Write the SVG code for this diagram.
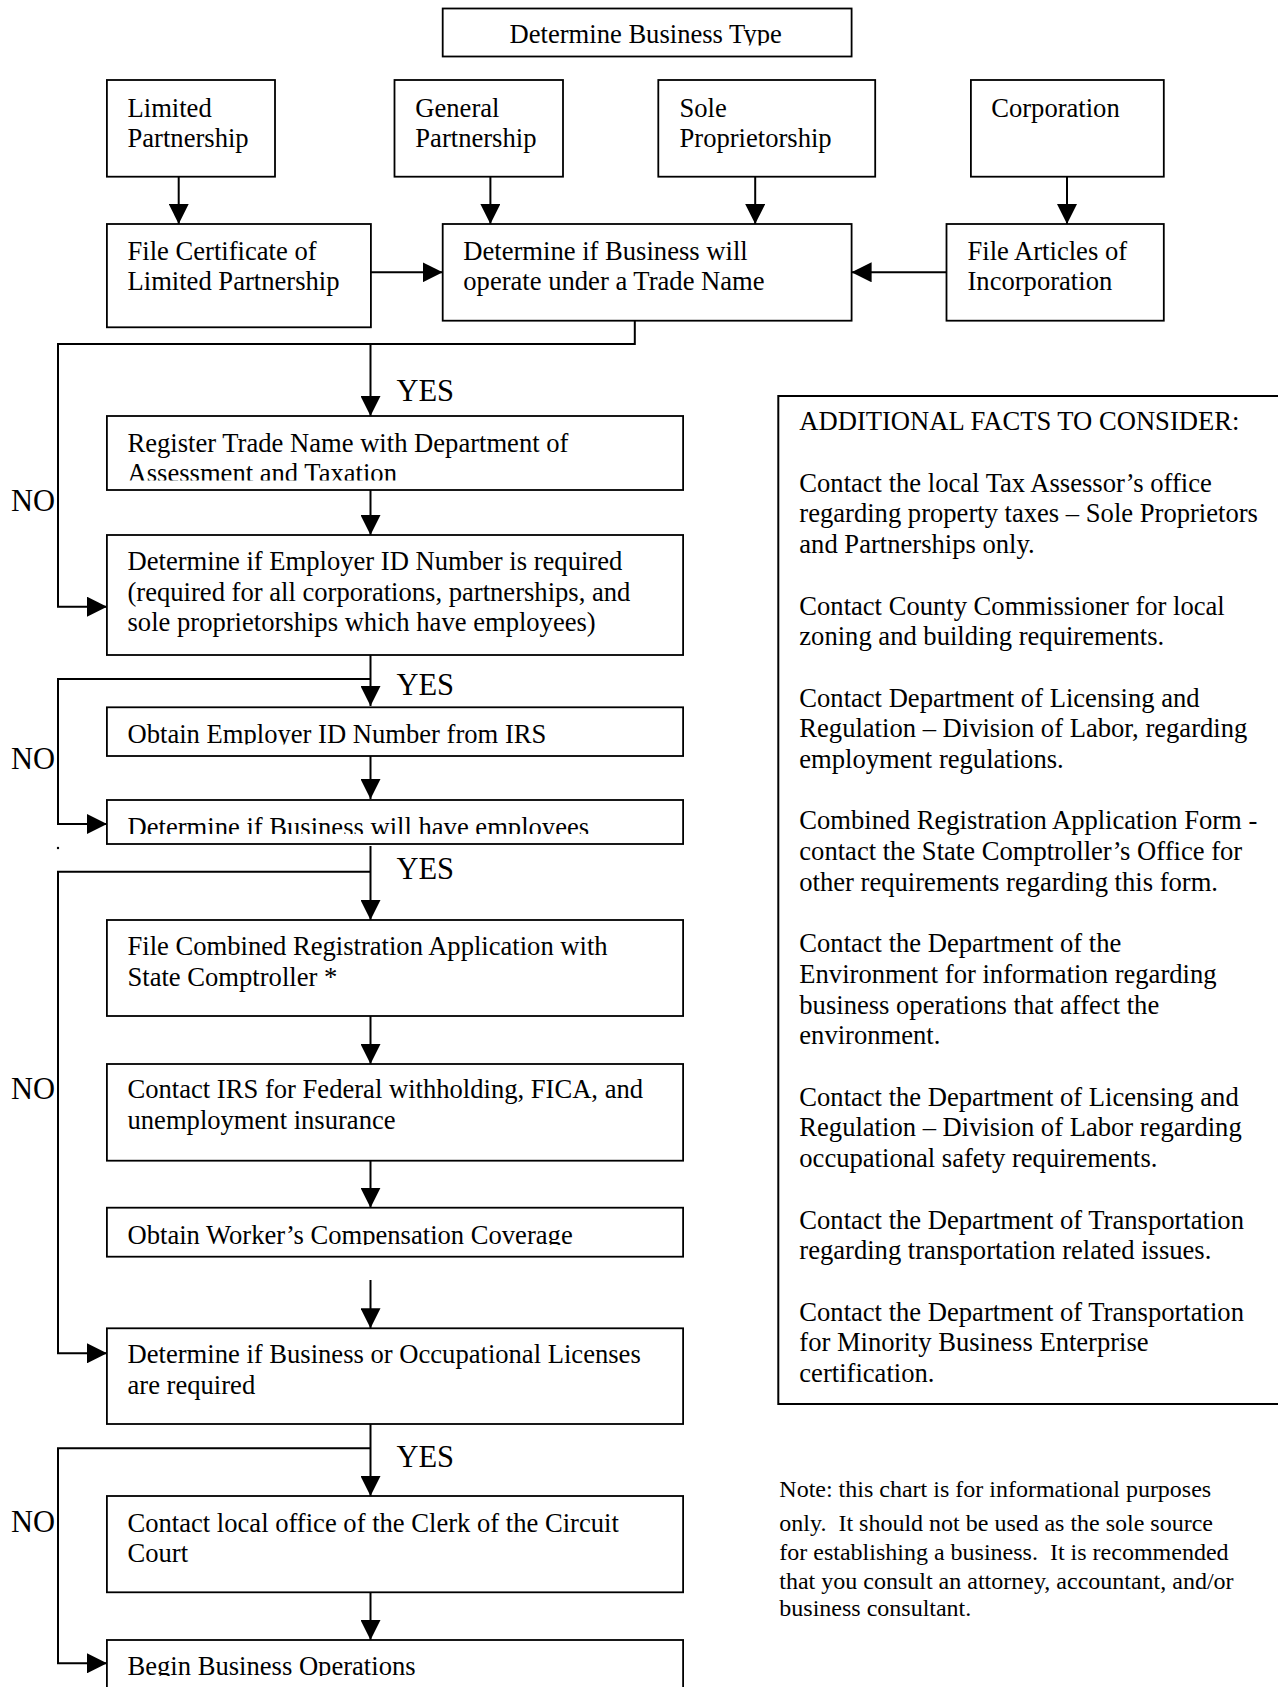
<svg xmlns="http://www.w3.org/2000/svg" width="1278" height="1687" viewBox="0 0 1278 1687">
<style>
  .box { fill: #fff; stroke: #000; stroke-width: 1.8; }
  .fbox { fill: #fff; stroke: #000; stroke-width: 2; }
  .t { font-family: "Liberation Serif", "Times New Roman", serif; font-size: 26.6px; fill: #000; }
  .yn { font-family: "Liberation Serif", "Times New Roman", serif; font-size: 30.5px; fill: #000; }
  .note { font-family: "Liberation Serif", "Times New Roman", serif; font-size: 24px; fill: #000; white-space: pre; }
  .c { fill: none; stroke: #000; stroke-width: 2; }
</style>
<defs>
  <marker id="ah" markerUnits="userSpaceOnUse" markerWidth="20" markerHeight="20" refX="20" refY="10" orient="auto" viewBox="0 0 20 20">
    <path d="M0,0 L20,10 L0,20 Z" fill="#000"/>
  </marker>
  <clipPath id="clipTop"><rect x="442" y="8" width="410" height="37.5"/></clipPath>
  <clipPath id="clipReg"><rect x="107" y="416" width="576" height="64.5"/></clipPath>
  <clipPath id="clipEIN"><rect x="107" y="707" width="576" height="37.5"/></clipPath>
  <clipPath id="clipEmp"><rect x="107" y="800" width="576" height="34"/></clipPath>
  <clipPath id="clipWork"><rect x="107" y="1208" width="576" height="37"/></clipPath>
  <clipPath id="clipBegin"><rect x="107" y="1640" width="576" height="36"/></clipPath>
</defs>
<rect x="0" y="0" width="1278" height="1687" fill="#fff"/>

<g id="connectors">
  <path class="c" d="M178.7,176.7 V224" marker-end="url(#ah)"/>
  <path class="c" d="M490.4,176.7 V224" marker-end="url(#ah)"/>
  <path class="c" d="M755.2,176.7 V224" marker-end="url(#ah)"/>
  <path class="c" d="M1067,176.7 V224" marker-end="url(#ah)"/>
  <path class="c" d="M370.9,272.3 H442.7" marker-end="url(#ah)"/>
  <path class="c" d="M946.5,272.3 H851.6" marker-end="url(#ah)"/>
  <path class="c" d="M634.8,320.7 V344 H58 V606.7 H107" marker-end="url(#ah)"/>
  <path class="c" d="M370.5,344 V416" marker-end="url(#ah)"/>
  <path class="c" d="M370.5,490 V535" marker-end="url(#ah)"/>
  <path class="c" d="M370.5,655 V706" marker-end="url(#ah)"/>
  <path class="c" d="M370.5,679 H58 V824 H107" marker-end="url(#ah)"/>
  <path class="c" d="M370.5,756 V799" marker-end="url(#ah)"/>
  <path class="c" d="M370.5,846 V920" marker-end="url(#ah)"/>
  <path class="c" d="M370.5,871.7 H58 V1353.3 H107" marker-end="url(#ah)"/>
  <path class="c" d="M370.5,1016 V1064" marker-end="url(#ah)"/>
  <path class="c" d="M370.5,1160.7 V1207.7" marker-end="url(#ah)"/>
  <path class="c" d="M370.5,1280 V1328.3" marker-end="url(#ah)"/>
  <path class="c" d="M370.5,1424 V1496" marker-end="url(#ah)"/>
  <path class="c" d="M370.5,1448.3 H58 V1663.3 H107" marker-end="url(#ah)"/>
  <path class="c" d="M370.5,1592.3 V1640" marker-end="url(#ah)"/>
  <circle cx="58" cy="848" r="1.2" fill="#000"/>
  <text class="yn" x="396.4" y="400.5">YES</text>
  <text class="yn" x="396.4" y="695">YES</text>
  <text class="yn" x="396.4" y="878.5">YES</text>
  <text class="yn" x="396.4" y="1467">YES</text>
  <text class="yn" x="11" y="511">NO</text>
  <text class="yn" x="11" y="769">NO</text>
  <text class="yn" x="11" y="1099">NO</text>
  <text class="yn" x="11" y="1532">NO</text>
</g>

<g id="n-type">
  <rect class="box" x="442.7" y="8.5" width="408.9" height="48"/>
  <text class="t" x="509.5" y="43.3" clip-path="url(#clipTop)">Determine Business Type</text>
</g>
<g id="n-lp">
  <rect class="box" x="106.9" y="80" width="168.1" height="96.7"/>
  <text class="t" x="127.5" y="116.5">Limited</text>
  <text class="t" x="127.5" y="147.2">Partnership</text>
</g>
<g id="n-gp">
  <rect class="box" x="394.5" y="80" width="168.5" height="96.7"/>
  <text class="t" x="415.3" y="116.5">General</text>
  <text class="t" x="415.3" y="147.2">Partnership</text>
</g>
<g id="n-sp">
  <rect class="box" x="658.3" y="80" width="216.9" height="96.7"/>
  <text class="t" x="679.5" y="116.5">Sole</text>
  <text class="t" x="679.5" y="147.2">Proprietorship</text>
</g>
<g id="n-corp">
  <rect class="box" x="970.9" y="80" width="192.9" height="96.7"/>
  <text class="t" x="991.2" y="116.5">Corporation</text>
</g>
<g id="n-fclp">
  <rect class="box" x="106.9" y="224" width="264" height="103.3"/>
  <text class="t" x="127.5" y="259.5">File Certificate of</text>
  <text class="t" x="127.5" y="290.2">Limited Partnership</text>
</g>
<g id="n-trade">
  <rect class="box" x="442.7" y="224" width="408.9" height="96.7"/>
  <text class="t" x="463.3" y="259.5">Determine if Business will</text>
  <text class="t" x="463.3" y="290.2">operate under a Trade Name</text>
</g>
<g id="n-fai">
  <rect class="box" x="946.5" y="224" width="217.3" height="96.7"/>
  <text class="t" x="967.5" y="259.5">File Articles of</text>
  <text class="t" x="967.5" y="290.2">Incorporation</text>
</g>
<g id="n-register">
  <rect class="box" x="106.9" y="416" width="576.2" height="74"/>
  <g clip-path="url(#clipReg)">
    <text class="t" x="127.5" y="451.7">Register Trade Name with Department of</text>
    <text class="t" x="127.5" y="482.4">Assessment and Taxation</text>
  </g>
</g>
<g id="n-ein">
  <rect class="box" x="106.9" y="535" width="576.2" height="120"/>
  <text class="t" x="127.5" y="570">Determine if Employer ID Number is required</text>
  <text class="t" x="127.5" y="600.7">(required for all corporations, partnerships, and</text>
  <text class="t" x="127.5" y="631.4">sole proprietorships which have employees)</text>
</g>
<g id="n-obtain">
  <rect class="box" x="106.9" y="707.3" width="576.2" height="48.7"/>
  <text class="t" x="127.5" y="743" clip-path="url(#clipEIN)">Obtain Employer ID Number from IRS</text>
</g>
<g id="n-employees">
  <rect class="box" x="106.9" y="800" width="576.2" height="44"/>
  <text class="t" x="127.5" y="835.5" clip-path="url(#clipEmp)">Determine if Business will have employees</text>
</g>
<g id="n-combined">
  <rect class="box" x="106.9" y="920" width="576.2" height="96"/>
  <text class="t" x="127.5" y="955">File Combined Registration Application with</text>
  <text class="t" x="127.5" y="985.7">State Comptroller *</text>
</g>
<g id="n-irs">
  <rect class="box" x="106.9" y="1064" width="576.2" height="96.7"/>
  <text class="t" x="127.5" y="1098.3">Contact IRS for Federal withholding, FICA, and</text>
  <text class="t" x="127.5" y="1129">unemployment insurance</text>
</g>
<g id="n-workers">
  <rect class="box" x="106.9" y="1207.7" width="576.2" height="49"/>
  <text class="t" x="127.5" y="1243.5" clip-path="url(#clipWork)">Obtain Worker’s Compensation Coverage</text>
</g>
<g id="n-licenses">
  <rect class="box" x="106.9" y="1328.3" width="576.2" height="95.7"/>
  <text class="t" x="127.5" y="1363.3">Determine if Business or Occupational Licenses</text>
  <text class="t" x="127.5" y="1394">are required</text>
</g>
<g id="n-clerk">
  <rect class="box" x="106.9" y="1496" width="576.2" height="96.3"/>
  <text class="t" x="127.5" y="1531.7">Contact local office of the Clerk of the Circuit</text>
  <text class="t" x="127.5" y="1562.4">Court</text>
</g>
<g id="n-begin">
  <rect class="box" x="106.9" y="1640" width="576.2" height="70"/>
  <text class="t" x="127.5" y="1675" clip-path="url(#clipBegin)">Begin Business Operations</text>
</g>

<g id="n-facts">
  <rect class="fbox" x="778.3" y="396" width="520" height="1008"/>
  <text class="t" x="799.3" y="430.3">ADDITIONAL FACTS TO CONSIDER:</text>
  <text class="t" x="799.3" y="491.7">Contact the local Tax Assessor’s office</text>
  <text class="t" x="799.3" y="522.4">regarding property taxes – Sole Proprietors</text>
  <text class="t" x="799.3" y="553.1">and Partnerships only.</text>
  <text class="t" x="799.3" y="614.5">Contact County Commissioner for local</text>
  <text class="t" x="799.3" y="645.2">zoning and building requirements.</text>
  <text class="t" x="799.3" y="706.6">Contact Department of Licensing and</text>
  <text class="t" x="799.3" y="737.3">Regulation – Division of Labor, regarding</text>
  <text class="t" x="799.3" y="768">employment regulations.</text>
  <text class="t" x="799.3" y="829.4">Combined Registration Application Form -</text>
  <text class="t" x="799.3" y="860.1">contact the State Comptroller’s Office for</text>
  <text class="t" x="799.3" y="890.8">other requirements regarding this form.</text>
  <text class="t" x="799.3" y="952.2">Contact the Department of the</text>
  <text class="t" x="799.3" y="982.9">Environment for information regarding</text>
  <text class="t" x="799.3" y="1013.6">business operations that affect the</text>
  <text class="t" x="799.3" y="1044.3">environment.</text>
  <text class="t" x="799.3" y="1105.7">Contact the Department of Licensing and</text>
  <text class="t" x="799.3" y="1136.4">Regulation – Division of Labor regarding</text>
  <text class="t" x="799.3" y="1167.1">occupational safety requirements.</text>
  <text class="t" x="799.3" y="1228.5">Contact the Department of Transportation</text>
  <text class="t" x="799.3" y="1259.2">regarding transportation related issues.</text>
  <text class="t" x="799.3" y="1320.6">Contact the Department of Transportation</text>
  <text class="t" x="799.3" y="1351.3">for Minority Business Enterprise</text>
  <text class="t" x="799.3" y="1382">certification.</text>
</g>

<g id="n-note">
  <text class="note" x="779.3" y="1496.5">Note: this chart is for informational purposes</text>
  <text class="note" x="779.3" y="1531" xml:space="preserve">only.  It should not be used as the sole source</text>
  <text class="note" x="779.3" y="1560" xml:space="preserve">for establishing a business.  It is recommended</text>
  <text class="note" x="779.3" y="1588.7">that you consult an attorney, accountant, and/or</text>
  <text class="note" x="779.3" y="1616">business consultant.</text>
</g>
</svg>
